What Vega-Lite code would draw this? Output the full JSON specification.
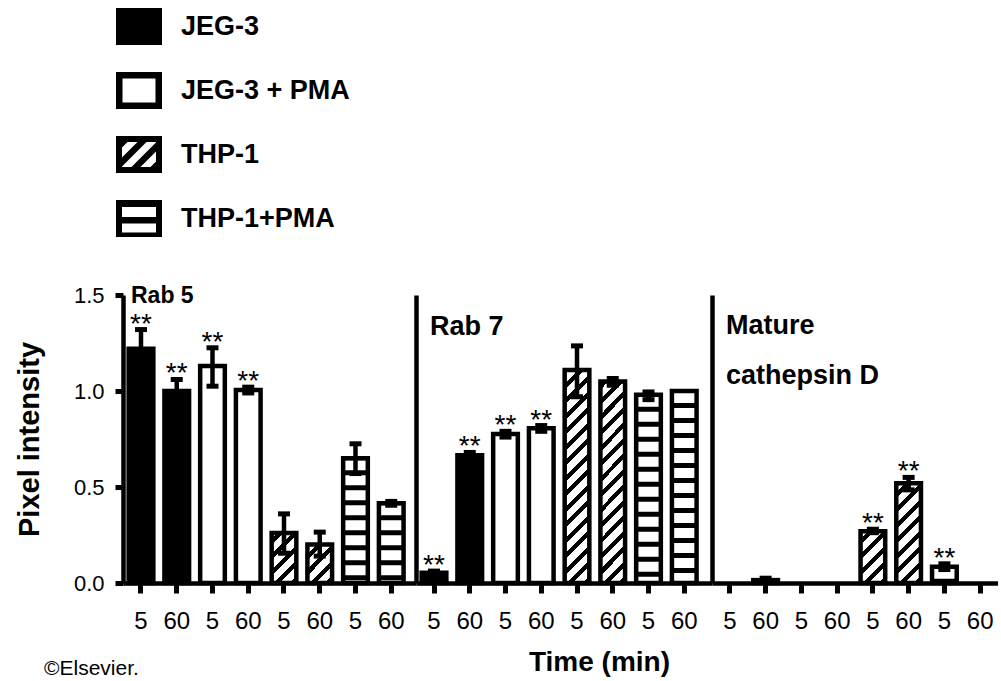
{
  "$schema": "https://vega.github.io/schema/vega-lite/v6.json",
  "background": "white",
  "padding": {"left": 14, "top": 3, "right": 0, "bottom": 0},
  "config": {
    "view": {"stroke": null},
    "font": "Liberation Sans",
    "axis": {"grid": false, "domainColor": "black", "tickColor": "black", "labelColor": "black", "titleColor": "black", "domainWidth": 4.5, "tickWidth": 5},
    "title": {"color": "black"}
  },
  "title": {"text": "©Elsevier.", "orient": "bottom", "anchor": "start", "frame": "group", "fontSize": 21, "fontWeight": "normal", "dx": -79, "offset": -18},
  "data": {"values": [
    {"panel": "Rab 5", "group": "JEG-3", "time": "5", "bar": "JEG-3|5", "mean": 1.22, "lo": 1.12, "hi": 1.32, "sig": "**"},
    {"panel": "Rab 5", "group": "JEG-3", "time": "60", "bar": "JEG-3|60", "mean": 1.0, "lo": 0.94, "hi": 1.06, "sig": "**"},
    {"panel": "Rab 5", "group": "JEG-3 + PMA", "time": "5", "bar": "JEG-3 + PMA|5", "mean": 1.13, "lo": 1.025, "hi": 1.225, "sig": "**"},
    {"panel": "Rab 5", "group": "JEG-3 + PMA", "time": "60", "bar": "JEG-3 + PMA|60", "mean": 1.005, "lo": 0.99, "hi": 1.02, "sig": "**"},
    {"panel": "Rab 5", "group": "THP-1", "time": "5", "bar": "THP-1|5", "mean": 0.26, "lo": 0.155, "hi": 0.36, "sig": ""},
    {"panel": "Rab 5", "group": "THP-1", "time": "60", "bar": "THP-1|60", "mean": 0.2, "lo": 0.14, "hi": 0.265, "sig": ""},
    {"panel": "Rab 5", "group": "THP-1+PMA", "time": "5", "bar": "THP-1+PMA|5", "mean": 0.65, "lo": 0.57, "hi": 0.725, "sig": ""},
    {"panel": "Rab 5", "group": "THP-1+PMA", "time": "60", "bar": "THP-1+PMA|60", "mean": 0.415, "lo": 0.405, "hi": 0.425, "sig": ""},
    {"panel": "Rab 7", "group": "JEG-3", "time": "5", "bar": "JEG-3|5", "mean": 0.054, "lo": 0.045, "hi": 0.062, "sig": "**"},
    {"panel": "Rab 7", "group": "JEG-3", "time": "60", "bar": "JEG-3|60", "mean": 0.665, "lo": 0.645, "hi": 0.68, "sig": "**"},
    {"panel": "Rab 7", "group": "JEG-3 + PMA", "time": "5", "bar": "JEG-3 + PMA|5", "mean": 0.776, "lo": 0.76, "hi": 0.79, "sig": "**"},
    {"panel": "Rab 7", "group": "JEG-3 + PMA", "time": "60", "bar": "JEG-3 + PMA|60", "mean": 0.806, "lo": 0.79, "hi": 0.82, "sig": "**"},
    {"panel": "Rab 7", "group": "THP-1", "time": "5", "bar": "THP-1|5", "mean": 1.11, "lo": 0.97, "hi": 1.235, "sig": ""},
    {"panel": "Rab 7", "group": "THP-1", "time": "60", "bar": "THP-1|60", "mean": 1.05, "lo": 1.03, "hi": 1.065, "sig": ""},
    {"panel": "Rab 7", "group": "THP-1+PMA", "time": "5", "bar": "THP-1+PMA|5", "mean": 0.98, "lo": 0.955, "hi": 0.995, "sig": ""},
    {"panel": "Rab 7", "group": "THP-1+PMA", "time": "60", "bar": "THP-1+PMA|60", "mean": 1.0, "lo": 1.0, "hi": 1.0, "sig": ""},
    {"panel": "Mature cathepsin D", "group": "JEG-3", "time": "5", "bar": "JEG-3|5", "mean": 0, "lo": 0, "hi": 0, "sig": ""},
    {"panel": "Mature cathepsin D", "group": "JEG-3", "time": "60", "bar": "JEG-3|60", "mean": 0.015, "lo": 0.005, "hi": 0.025, "sig": ""},
    {"panel": "Mature cathepsin D", "group": "JEG-3 + PMA", "time": "5", "bar": "JEG-3 + PMA|5", "mean": 0, "lo": 0, "hi": 0, "sig": ""},
    {"panel": "Mature cathepsin D", "group": "JEG-3 + PMA", "time": "60", "bar": "JEG-3 + PMA|60", "mean": 0, "lo": 0, "hi": 0, "sig": ""},
    {"panel": "Mature cathepsin D", "group": "THP-1", "time": "5", "bar": "THP-1|5", "mean": 0.27, "lo": 0.262, "hi": 0.28, "sig": "**"},
    {"panel": "Mature cathepsin D", "group": "THP-1", "time": "60", "bar": "THP-1|60", "mean": 0.52, "lo": 0.485, "hi": 0.55, "sig": "**"},
    {"panel": "Mature cathepsin D", "group": "THP-1+PMA", "time": "5", "bar": "THP-1+PMA|5", "mean": 0.085, "lo": 0.07, "hi": 0.1, "sig": "**"},
    {"panel": "Mature cathepsin D", "group": "THP-1+PMA", "time": "60", "bar": "THP-1+PMA|60", "mean": 0, "lo": 0, "hi": 0, "sig": ""}
  ]},
  "spacing": 0,
  "bounds": "flush",
  "hconcat": [
    {
      "width": 293, "height": 288,
      "transform": [{"filter": "datum.panel === 'Rab 5'"}],
      "title": {"text": "Rab 5", "anchor": "start", "frame": "group", "baseline": "top", "fontSize": 23, "fontWeight": "bold", "dx": 8, "offset": -24},
      "encoding": {
        "x": {"field": "bar", "type": "nominal", "sort": null,
          "scale": {"domain": ["JEG-3|5", "JEG-3|60", "JEG-3 + PMA|5", "JEG-3 + PMA|60", "THP-1|5", "THP-1|60", "THP-1+PMA|5", "THP-1+PMA|60"], "paddingInner": 0.31, "paddingOuter": 0.253, "align": 0.313},
          "axis": {"title": null, "labelExpr": "split(datum.label, '|')[1]", "labelAngle": 0, "labelFontSize": 24, "labelPadding": 16, "tickSize": 10, "bandPosition": 0.5, "labelOverlap": false}},
        "y": {"field": "mean", "type": "quantitative", "scale": {"domain": [0, 1.5], "nice": false},
          "axis": {"values": [0, 0.5, 1, 1.5], "format": ".1f", "title": "Pixel intensity", "titleFontSize": 29, "titleFontWeight": "bold", "titleX": -85, "titleBaseline": "alphabetic", "labelFontSize": 22, "labelPadding": 11, "tickSize": 8}}
      },
      "layer": [
        {"mark": {"type": "bar"}, "encoding": {"fill": {"condition": {"test": "datum.group === 'JEG-3'", "value": "black"}, "value": "white"}}},
        {"transform": [{"filter": "datum.group === 'THP-1'"}],
         "mark": {"type": "bar", "fill": {"gradient": "linear", "x1": 0, "y1": 0, "x2": 0.1174, "y2": 1.0946, "stops": [
          {"offset": 0, "color": "black"}, {"offset": 0.0235, "color": "black"}, {"offset": 0.0235, "color": "white"}, {"offset": 0.0608, "color": "white"},
          {"offset": 0.0608, "color": "black"}, {"offset": 0.0843, "color": "black"}, {"offset": 0.0843, "color": "white"}, {"offset": 0.1215, "color": "white"},
          {"offset": 0.1215, "color": "black"}, {"offset": 0.145, "color": "black"}, {"offset": 0.145, "color": "white"}, {"offset": 0.1823, "color": "white"},
          {"offset": 0.1823, "color": "black"}, {"offset": 0.2058, "color": "black"}, {"offset": 0.2058, "color": "white"}, {"offset": 0.243, "color": "white"},
          {"offset": 0.243, "color": "black"}, {"offset": 0.2666, "color": "black"}, {"offset": 0.2666, "color": "white"}, {"offset": 0.3038, "color": "white"},
          {"offset": 0.3038, "color": "black"}, {"offset": 0.3273, "color": "black"}, {"offset": 0.3273, "color": "white"}, {"offset": 0.3646, "color": "white"},
          {"offset": 0.3646, "color": "black"}, {"offset": 0.3881, "color": "black"}, {"offset": 0.3881, "color": "white"}, {"offset": 0.4253, "color": "white"},
          {"offset": 0.4253, "color": "black"}, {"offset": 0.4488, "color": "black"}, {"offset": 0.4488, "color": "white"}, {"offset": 0.4861, "color": "white"},
          {"offset": 0.4861, "color": "black"}, {"offset": 0.5096, "color": "black"}, {"offset": 0.5096, "color": "white"}, {"offset": 0.5468, "color": "white"},
          {"offset": 0.5468, "color": "black"}, {"offset": 0.5704, "color": "black"}, {"offset": 0.5704, "color": "white"}, {"offset": 0.6076, "color": "white"},
          {"offset": 0.6076, "color": "black"}, {"offset": 0.6311, "color": "black"}, {"offset": 0.6311, "color": "white"}, {"offset": 0.6684, "color": "white"},
          {"offset": 0.6684, "color": "black"}, {"offset": 0.6919, "color": "black"}, {"offset": 0.6919, "color": "white"}, {"offset": 0.7291, "color": "white"},
          {"offset": 0.7291, "color": "black"}, {"offset": 0.7526, "color": "black"}, {"offset": 0.7526, "color": "white"}, {"offset": 0.7899, "color": "white"},
          {"offset": 0.7899, "color": "black"}, {"offset": 0.8134, "color": "black"}, {"offset": 0.8134, "color": "white"}, {"offset": 0.8506, "color": "white"},
          {"offset": 0.8506, "color": "black"}, {"offset": 0.8742, "color": "black"}, {"offset": 0.8742, "color": "white"}, {"offset": 0.9114, "color": "white"},
          {"offset": 0.9114, "color": "black"}, {"offset": 0.9349, "color": "black"}, {"offset": 0.9349, "color": "white"}, {"offset": 0.9722, "color": "white"},
          {"offset": 0.9722, "color": "black"}, {"offset": 0.9957, "color": "black"}, {"offset": 0.9957, "color": "white"}, {"offset": 1, "color": "white"}]}},
         "encoding": {"y": {"datum": 1.2, "type": "quantitative", "title": null}, "y2": {"datum": 0}}},
        {"transform": [{"filter": "datum.group === 'THP-1'"}], "mark": {"type": "bar", "fill": "white", "width": {"band": 1.1}}, "encoding": {"y2": {"datum": 1.25}}},
        {"transform": [{"filter": "datum.group === 'THP-1+PMA' && datum.mean > 0"}], "mark": {"type": "rule", "stroke": "black", "strokeWidth": 24, "strokeDash": [5, 10], "strokeDashOffset": 3}, "encoding": {"y2": {"datum": 0}}},
        {"transform": [{"filter": "datum.mean > 0"}], "mark": {"type": "bar", "fill": "transparent", "stroke": "black", "strokeWidth": 4.5}},
        {"transform": [{"filter": "datum.hi > datum.lo"}], "mark": {"type": "rule", "stroke": "black", "strokeWidth": 4.5}, "encoding": {"y": {"field": "lo", "type": "quantitative", "title": null}, "y2": {"field": "hi"}}},
        {"transform": [{"filter": "datum.hi > datum.lo"}], "mark": {"type": "tick", "color": "black", "orient": "horizontal", "size": 12, "thickness": 5, "opacity": 1}, "encoding": {"y": {"field": "hi", "type": "quantitative", "title": null}}},
        {"transform": [{"filter": "datum.hi > datum.lo"}], "mark": {"type": "tick", "color": "black", "orient": "horizontal", "size": 12, "thickness": 5, "opacity": 1}, "encoding": {"y": {"field": "lo", "type": "quantitative", "title": null}}},
        {"transform": [{"filter": "datum.sig !== ''"}], "mark": {"type": "text", "fontSize": 28, "dy": 3, "baseline": "alphabetic", "color": "black"}, "encoding": {"y": {"field": "hi", "type": "quantitative", "title": null}, "text": {"field": "sig"}}},
        {"mark": {"type": "point", "filled": true, "color": "black", "opacity": 0},
         "encoding": {"shape": {"field": "group", "type": "nominal",
           "scale": {"domain": ["JEG-3", "JEG-3 + PMA", "THP-1", "THP-1+PMA"], "range": [
             "M-1,-0.804H1V0.804H-1Z",
             "M-1,-0.804H1V0.804H-1Z M-0.717,-0.522V0.522H0.717V-0.522Z",
             "M-1,-0.804H1V0.804H-1Z M-0.5,-0.543L-0.739,-0.304L-0.739,0.13L-0.065,-0.543Z M0.326,-0.543L-0.739,0.522L-0.739,0.543L-0.326,0.543L0.739,-0.522L0.739,-0.543Z M0.739,-0.13L0.065,0.543L0.5,0.543L0.739,0.304Z",
             "M-1,-0.804H1V0.804H-1Z M-0.739,-0.5V-0.065H0.739V-0.5Z M-0.739,0.217V0.609H0.739V0.217Z"]},
           "legend": {"orient": "none", "legendX": -7, "legendY": -291.5, "title": null, "direction": "vertical", "symbolSize": 2116, "symbolStrokeWidth": 0, "symbolFillColor": "black", "symbolOpacity": 1, "labelFontSize": 27, "labelFontWeight": "bold", "labelColor": "black", "labelOffset": 19, "rowPadding": 22, "padding": 0, "labelLimit": 400,
             "encode": {"symbols": {"update": {"opacity": {"value": 1}, "fill": {"value": "black"}, "strokeWidth": {"value": 0}}}, "labels": {"update": {"dy": {"value": 10}}}}}}}}
      ]
    },
    {
      "width": 296, "height": 288,
      "transform": [{"filter": "datum.panel === 'Rab 7'"}],
      "title": {"text": "Rab 7", "anchor": "start", "frame": "group", "baseline": "top", "fontSize": 27, "fontWeight": "bold", "dx": 14, "offset": -46},
      "encoding": {
        "x": {"field": "bar", "type": "nominal", "sort": null,
          "scale": {"domain": ["JEG-3|5", "JEG-3|60", "JEG-3 + PMA|5", "JEG-3 + PMA|60", "THP-1|5", "THP-1|60", "THP-1+PMA|5", "THP-1+PMA|60"], "paddingInner": 0.31, "paddingOuter": 0.295, "align": 0.269},
          "axis": {"title": "Time (min)", "titleFontSize": 28, "titleFontWeight": "bold", "titleX": 183, "titleY": 65, "titleBaseline": "top", "titleAlign": "center", "labelExpr": "split(datum.label, '|')[1]", "labelAngle": 0, "labelFontSize": 24, "labelPadding": 16, "tickSize": 10, "bandPosition": 0.5, "labelOverlap": false}},
        "y": {"field": "mean", "type": "quantitative", "scale": {"domain": [0, 1.5], "nice": false},
          "axis": {"ticks": false, "labels": false, "title": null, "domain": true}}
      },
      "layer": [
        {"mark": {"type": "bar"}, "encoding": {"fill": {"condition": {"test": "datum.group === 'JEG-3'", "value": "black"}, "value": "white"}}},
        {"transform": [{"filter": "datum.group === 'THP-1'"}],
         "mark": {"type": "bar", "fill": {"gradient": "linear", "x1": 0, "y1": 0, "x2": 0.1174, "y2": 1.0946, "stops": [
          {"offset": 0, "color": "black"}, {"offset": 0.0235, "color": "black"}, {"offset": 0.0235, "color": "white"}, {"offset": 0.0608, "color": "white"},
          {"offset": 0.0608, "color": "black"}, {"offset": 0.0843, "color": "black"}, {"offset": 0.0843, "color": "white"}, {"offset": 0.1215, "color": "white"},
          {"offset": 0.1215, "color": "black"}, {"offset": 0.145, "color": "black"}, {"offset": 0.145, "color": "white"}, {"offset": 0.1823, "color": "white"},
          {"offset": 0.1823, "color": "black"}, {"offset": 0.2058, "color": "black"}, {"offset": 0.2058, "color": "white"}, {"offset": 0.243, "color": "white"},
          {"offset": 0.243, "color": "black"}, {"offset": 0.2666, "color": "black"}, {"offset": 0.2666, "color": "white"}, {"offset": 0.3038, "color": "white"},
          {"offset": 0.3038, "color": "black"}, {"offset": 0.3273, "color": "black"}, {"offset": 0.3273, "color": "white"}, {"offset": 0.3646, "color": "white"},
          {"offset": 0.3646, "color": "black"}, {"offset": 0.3881, "color": "black"}, {"offset": 0.3881, "color": "white"}, {"offset": 0.4253, "color": "white"},
          {"offset": 0.4253, "color": "black"}, {"offset": 0.4488, "color": "black"}, {"offset": 0.4488, "color": "white"}, {"offset": 0.4861, "color": "white"},
          {"offset": 0.4861, "color": "black"}, {"offset": 0.5096, "color": "black"}, {"offset": 0.5096, "color": "white"}, {"offset": 0.5468, "color": "white"},
          {"offset": 0.5468, "color": "black"}, {"offset": 0.5704, "color": "black"}, {"offset": 0.5704, "color": "white"}, {"offset": 0.6076, "color": "white"},
          {"offset": 0.6076, "color": "black"}, {"offset": 0.6311, "color": "black"}, {"offset": 0.6311, "color": "white"}, {"offset": 0.6684, "color": "white"},
          {"offset": 0.6684, "color": "black"}, {"offset": 0.6919, "color": "black"}, {"offset": 0.6919, "color": "white"}, {"offset": 0.7291, "color": "white"},
          {"offset": 0.7291, "color": "black"}, {"offset": 0.7526, "color": "black"}, {"offset": 0.7526, "color": "white"}, {"offset": 0.7899, "color": "white"},
          {"offset": 0.7899, "color": "black"}, {"offset": 0.8134, "color": "black"}, {"offset": 0.8134, "color": "white"}, {"offset": 0.8506, "color": "white"},
          {"offset": 0.8506, "color": "black"}, {"offset": 0.8742, "color": "black"}, {"offset": 0.8742, "color": "white"}, {"offset": 0.9114, "color": "white"},
          {"offset": 0.9114, "color": "black"}, {"offset": 0.9349, "color": "black"}, {"offset": 0.9349, "color": "white"}, {"offset": 0.9722, "color": "white"},
          {"offset": 0.9722, "color": "black"}, {"offset": 0.9957, "color": "black"}, {"offset": 0.9957, "color": "white"}, {"offset": 1, "color": "white"}]}},
         "encoding": {"y": {"datum": 1.2, "type": "quantitative", "title": null}, "y2": {"datum": 0}}},
        {"transform": [{"filter": "datum.group === 'THP-1'"}], "mark": {"type": "bar", "fill": "white", "width": {"band": 1.1}}, "encoding": {"y2": {"datum": 1.25}}},
        {"transform": [{"filter": "datum.group === 'THP-1+PMA' && datum.mean > 0"}], "mark": {"type": "rule", "stroke": "black", "strokeWidth": 24, "strokeDash": [5, 10], "strokeDashOffset": 3}, "encoding": {"y2": {"datum": 0}}},
        {"transform": [{"filter": "datum.mean > 0"}], "mark": {"type": "bar", "fill": "transparent", "stroke": "black", "strokeWidth": 4.5}},
        {"transform": [{"filter": "datum.hi > datum.lo"}], "mark": {"type": "rule", "stroke": "black", "strokeWidth": 4.5}, "encoding": {"y": {"field": "lo", "type": "quantitative", "title": null}, "y2": {"field": "hi"}}},
        {"transform": [{"filter": "datum.hi > datum.lo"}], "mark": {"type": "tick", "color": "black", "orient": "horizontal", "size": 12, "thickness": 5, "opacity": 1}, "encoding": {"y": {"field": "hi", "type": "quantitative", "title": null}}},
        {"transform": [{"filter": "datum.hi > datum.lo"}], "mark": {"type": "tick", "color": "black", "orient": "horizontal", "size": 12, "thickness": 5, "opacity": 1}, "encoding": {"y": {"field": "lo", "type": "quantitative", "title": null}}},
        {"transform": [{"filter": "datum.sig !== ''"}], "mark": {"type": "text", "fontSize": 28, "dy": 3, "baseline": "alphabetic", "color": "black"}, "encoding": {"y": {"field": "hi", "type": "quantitative", "title": null}, "text": {"field": "sig"}}}
      ]
    },
    {
      "width": 286, "height": 288,
      "transform": [{"filter": "datum.panel === 'Mature cathepsin D'"}],
      "title": {"text": ["Mature", "cathepsin D"], "anchor": "start", "frame": "group", "baseline": "top", "fontSize": 27, "fontWeight": "bold", "dx": 14, "offset": -95, "lineHeight": 50},
      "encoding": {
        "x": {"field": "bar", "type": "nominal", "sort": null,
          "scale": {"domain": ["JEG-3|5", "JEG-3|60", "JEG-3 + PMA|5", "JEG-3 + PMA|60", "THP-1|5", "THP-1|60", "THP-1+PMA|5", "THP-1+PMA|60"], "paddingInner": 0.31, "paddingOuter": 0.155},
          "axis": {"title": null, "labelExpr": "split(datum.label, '|')[1]", "labelAngle": 0, "labelFontSize": 24, "labelPadding": 16, "tickSize": 10, "bandPosition": 0.5, "labelOverlap": false}},
        "y": {"field": "mean", "type": "quantitative", "scale": {"domain": [0, 1.5], "nice": false},
          "axis": {"ticks": false, "labels": false, "title": null, "domain": true}}
      },
      "layer": [
        {"mark": {"type": "bar"}, "encoding": {"fill": {"condition": {"test": "datum.group === 'JEG-3'", "value": "black"}, "value": "white"}}},
        {"transform": [{"filter": "datum.group === 'THP-1'"}],
         "mark": {"type": "bar", "fill": {"gradient": "linear", "x1": 0, "y1": 0, "x2": 0.1174, "y2": 1.0946, "stops": [
          {"offset": 0, "color": "black"}, {"offset": 0.0235, "color": "black"}, {"offset": 0.0235, "color": "white"}, {"offset": 0.0608, "color": "white"},
          {"offset": 0.0608, "color": "black"}, {"offset": 0.0843, "color": "black"}, {"offset": 0.0843, "color": "white"}, {"offset": 0.1215, "color": "white"},
          {"offset": 0.1215, "color": "black"}, {"offset": 0.145, "color": "black"}, {"offset": 0.145, "color": "white"}, {"offset": 0.1823, "color": "white"},
          {"offset": 0.1823, "color": "black"}, {"offset": 0.2058, "color": "black"}, {"offset": 0.2058, "color": "white"}, {"offset": 0.243, "color": "white"},
          {"offset": 0.243, "color": "black"}, {"offset": 0.2666, "color": "black"}, {"offset": 0.2666, "color": "white"}, {"offset": 0.3038, "color": "white"},
          {"offset": 0.3038, "color": "black"}, {"offset": 0.3273, "color": "black"}, {"offset": 0.3273, "color": "white"}, {"offset": 0.3646, "color": "white"},
          {"offset": 0.3646, "color": "black"}, {"offset": 0.3881, "color": "black"}, {"offset": 0.3881, "color": "white"}, {"offset": 0.4253, "color": "white"},
          {"offset": 0.4253, "color": "black"}, {"offset": 0.4488, "color": "black"}, {"offset": 0.4488, "color": "white"}, {"offset": 0.4861, "color": "white"},
          {"offset": 0.4861, "color": "black"}, {"offset": 0.5096, "color": "black"}, {"offset": 0.5096, "color": "white"}, {"offset": 0.5468, "color": "white"},
          {"offset": 0.5468, "color": "black"}, {"offset": 0.5704, "color": "black"}, {"offset": 0.5704, "color": "white"}, {"offset": 0.6076, "color": "white"},
          {"offset": 0.6076, "color": "black"}, {"offset": 0.6311, "color": "black"}, {"offset": 0.6311, "color": "white"}, {"offset": 0.6684, "color": "white"},
          {"offset": 0.6684, "color": "black"}, {"offset": 0.6919, "color": "black"}, {"offset": 0.6919, "color": "white"}, {"offset": 0.7291, "color": "white"},
          {"offset": 0.7291, "color": "black"}, {"offset": 0.7526, "color": "black"}, {"offset": 0.7526, "color": "white"}, {"offset": 0.7899, "color": "white"},
          {"offset": 0.7899, "color": "black"}, {"offset": 0.8134, "color": "black"}, {"offset": 0.8134, "color": "white"}, {"offset": 0.8506, "color": "white"},
          {"offset": 0.8506, "color": "black"}, {"offset": 0.8742, "color": "black"}, {"offset": 0.8742, "color": "white"}, {"offset": 0.9114, "color": "white"},
          {"offset": 0.9114, "color": "black"}, {"offset": 0.9349, "color": "black"}, {"offset": 0.9349, "color": "white"}, {"offset": 0.9722, "color": "white"},
          {"offset": 0.9722, "color": "black"}, {"offset": 0.9957, "color": "black"}, {"offset": 0.9957, "color": "white"}, {"offset": 1, "color": "white"}]}},
         "encoding": {"y": {"datum": 1.2, "type": "quantitative", "title": null}, "y2": {"datum": 0}}},
        {"transform": [{"filter": "datum.group === 'THP-1'"}], "mark": {"type": "bar", "fill": "white", "width": {"band": 1.1}}, "encoding": {"y2": {"datum": 1.25}}},
        {"transform": [{"filter": "datum.group === 'THP-1+PMA' && datum.mean > 0"}], "mark": {"type": "rule", "stroke": "black", "strokeWidth": 24, "strokeDash": [5, 10], "strokeDashOffset": 3}, "encoding": {"y2": {"datum": 0}}},
        {"transform": [{"filter": "datum.mean > 0"}], "mark": {"type": "bar", "fill": "transparent", "stroke": "black", "strokeWidth": 4.5}},
        {"transform": [{"filter": "datum.hi > datum.lo"}], "mark": {"type": "rule", "stroke": "black", "strokeWidth": 4.5}, "encoding": {"y": {"field": "lo", "type": "quantitative", "title": null}, "y2": {"field": "hi"}}},
        {"transform": [{"filter": "datum.hi > datum.lo"}], "mark": {"type": "tick", "color": "black", "orient": "horizontal", "size": 12, "thickness": 5, "opacity": 1}, "encoding": {"y": {"field": "hi", "type": "quantitative", "title": null}}},
        {"transform": [{"filter": "datum.hi > datum.lo"}], "mark": {"type": "tick", "color": "black", "orient": "horizontal", "size": 12, "thickness": 5, "opacity": 1}, "encoding": {"y": {"field": "lo", "type": "quantitative", "title": null}}},
        {"transform": [{"filter": "datum.sig !== ''"}], "mark": {"type": "text", "fontSize": 28, "dy": 3, "baseline": "alphabetic", "color": "black"}, "encoding": {"y": {"field": "hi", "type": "quantitative", "title": null}, "text": {"field": "sig"}}}
      ]
    }
  ]
}
